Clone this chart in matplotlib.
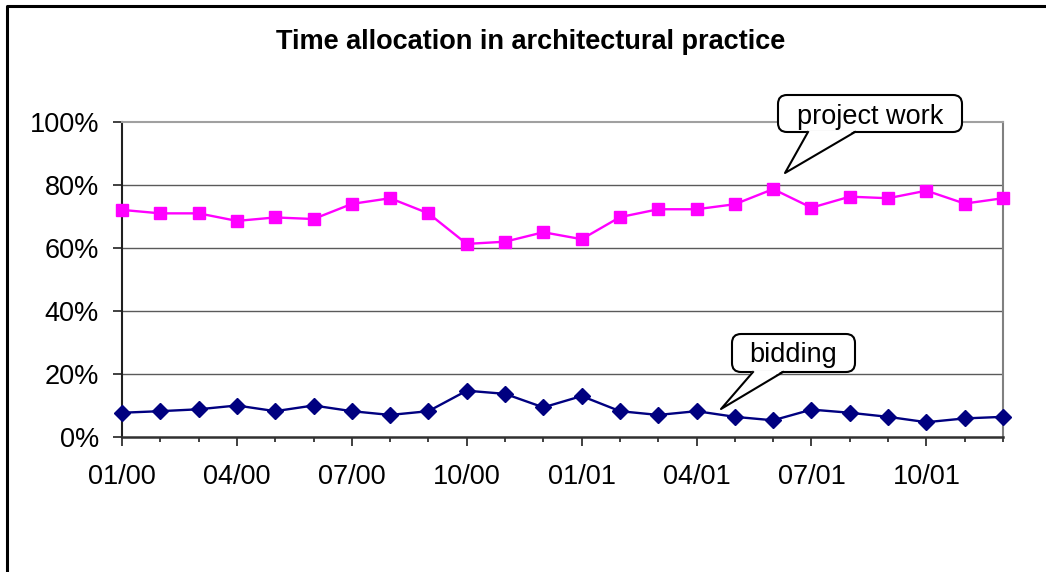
import matplotlib
matplotlib.use("Agg")
import matplotlib.pyplot as plt
from matplotlib.patches import FancyBboxPatch, Polygon
from matplotlib.lines import Line2D
from matplotlib.transforms import IdentityTransform
import numpy as np

plt.rcParams['font.family'] = ['Liberation Sans', 'DejaVu Sans']

W, H = 1046, 572

# month labels, Jan 2000 .. Dec 2001
months = ["01/00", "02/00", "03/00", "04/00", "05/00", "06/00", "07/00", "08/00",
          "09/00", "10/00", "11/00", "12/00", "01/01", "02/01", "03/01", "04/01",
          "05/01", "06/01", "07/01", "08/01", "09/01", "10/01", "11/01", "12/01"]

# percent of time
project_work = [72.1, 71.0, 71.0, 68.6, 69.7, 69.2, 74.0, 75.8, 71.0, 61.3, 62.0, 65.0,
                62.8, 69.8, 72.3, 72.3, 73.9, 78.7, 72.8, 76.3, 75.8, 78.2, 74.1, 75.8]
bidding = [7.7, 8.2, 8.8, 10.0, 8.2, 10.0, 8.2, 7.0, 8.2, 14.7, 13.7, 9.4,
           13.0, 8.2, 7.0, 8.2, 6.4, 5.3, 8.7, 7.7, 6.4, 4.7, 5.9, 6.4]

yticks = [0, 20, 40, 60, 80, 100]

fig = plt.figure(figsize=(W / 100, H / 100), dpi=100)
ax = fig.add_axes([122 / W, (H - 437) / H, 881 / W, 315 / H])

x = np.arange(len(months))
ax.plot(x, project_work, color="#ff00ff", lw=1.7, marker="s", ms=8, zorder=3, clip_on=False)
ax.plot(x, bidding, color="#000080", lw=1.7, marker="D", ms=8.5, zorder=3, clip_on=False)

ax.set_xlim(0, len(months) - 1)
ax.set_ylim(0, 100)
ax.set_yticks(yticks)
ax.set_yticklabels([f"{v}%" for v in yticks], fontsize=19.5)
major = x[::3]
minor = [i for i in x if i % 3 != 0]
ax.set_xticks(major)
ax.set_xticklabels([months[i] for i in major], fontsize=19.5)
ax.set_xticks(minor, minor=True)
ax.tick_params(axis="x", which="major", length=6.5, width=1.2, pad=13, color="#202020")
ax.tick_params(axis="x", which="minor", length=3.6, width=1.2, color="#202020")
ax.tick_params(axis="y", length=6.5, width=1.2, pad=10, color="#202020")

for v in yticks[1:-1]:
    ax.axhline(v, color="#5a5a5a", lw=1.0, zorder=1)
ax.spines["top"].set_color("#a0a0a0")
ax.spines["right"].set_color("#808080")
ax.spines["top"].set_linewidth(1.5)
ax.spines["right"].set_linewidth(1.5)
ax.spines["left"].set_color("#202020")
ax.spines["bottom"].set_color("#303030")
ax.spines["left"].set_linewidth(1.5)
ax.spines["bottom"].set_linewidth(1.8)

fig.text(531 / W, 1 - 42 / H, "Time allocation in architectural practice",
         ha="center", va="center", fontsize=19.5, fontweight="bold")

# outer chart frame (left and top edges visible)
fig.add_artist(Line2D([7 / W, 7 / W, 1], [0, 1 - 5.5 / H, 1 - 5.5 / H],
                      transform=fig.transFigure, color="black", lw=2.2))


def callout(text, box, tip, base, dy):
    # box: (left, top, right, bottom) in image pixels; tip: (x, y); base: (x0, x1)
    l, t, r, b = box
    patch = FancyBboxPatch((l, H - b), r - l, b - t,
                           boxstyle="round,pad=0,rounding_size=9",
                           transform=IdentityTransform(), fc="white", ec="black",
                           lw=1.5, zorder=5)
    fig.add_artist(patch)
    tail = Polygon([(base[0], H - b + 1.5), (tip[0], H - tip[1]), (base[1], H - b + 1.5)],
                   closed=True, transform=IdentityTransform(), fc="white", ec="none", zorder=6)
    fig.add_artist(tail)
    fig.add_artist(Line2D([base[0], tip[0], base[1]], [H - b, H - tip[1], H - b],
                          transform=IdentityTransform(), color="black", lw=1.5, zorder=7))
    fig.text((l + r) / 2 / W, 1 - ((t + b) / 2 + dy) / H, text, ha="center", va="center",
             fontsize=19.5, zorder=8)


callout("project work", (778, 95, 962, 132), (785, 173), (808, 855), 3)
callout("bidding", (732, 334, 855, 372), (721, 409), (753, 783), 2)

fig.savefig("out.png", dpi=100)
